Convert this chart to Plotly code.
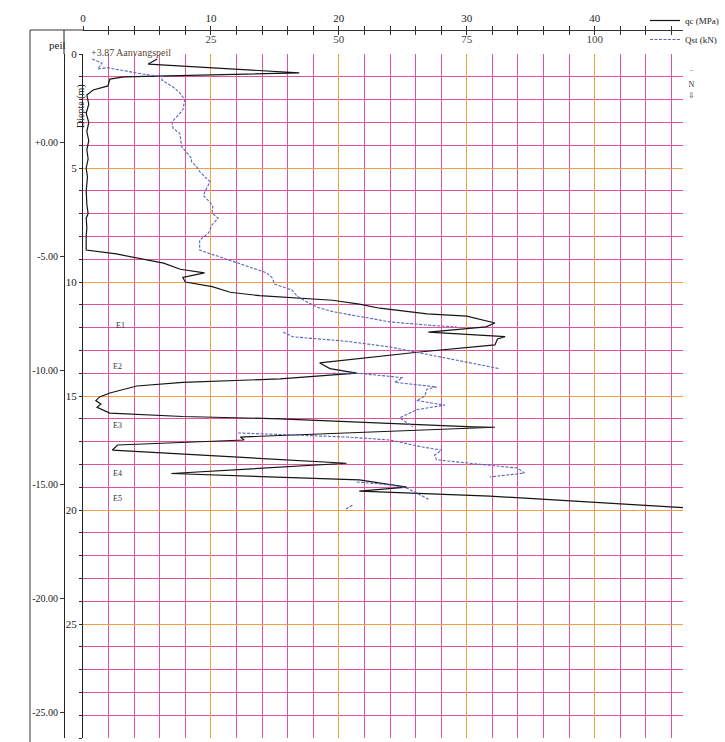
import plotly.graph_objects as go

# ---------------- data ----------------
# cone resistance qc (MPa) versus depth (m)
qc_depth = [0.22, 0.44, 0.83, 1.0, 1.1, 1.4, 1.58, 1.8, 2.2, 2.6, 3.0, 3.4, 3.8, 4.2, 4.6, 5.0,
            5.4, 6.0, 6.6, 7.0, 7.2, 7.6, 8.0, 8.6, 8.77, 9.17, 9.44, 9.6, 9.8, 10.0, 10.2, 10.45,
            10.6, 10.7, 10.8, 10.97, 11.15, 11.4, 11.5, 11.8, 11.97, 12.2, 12.4, 12.5, 12.76, 13.07,
            13.55, 13.8, 14.0, 14.25, 14.4, 14.56, 14.87, 15.04, 15.2, 15.35, 15.5, 15.75, 15.9,
            16.0, 16.15, 16.35, 16.37, 16.8, 16.93, 17.15, 17.37, 17.95, 18.4, 18.55, 18.68, 19.0,
            19.17, 19.39, 19.65, 19.9]
qc_mpa = [5.8, 5.1, 16.9, 3.2, 2.1, 1.95, 0.8, 0.3, 0.45, 0.25, 0.45, 0.3, 0.45, 0.3, 0.4, 0.25,
          0.35, 0.25, 0.3, 0.4, 0.25, 0.3, 0.25, 0.25, 2.6, 6.3, 7.6, 9.5, 7.8, 8.0, 10.1, 11.5,
          13.8, 17.0, 19.5, 21.6, 23.2, 26.9, 30.0, 32.2, 31.5, 27.0, 33.0, 32.4, 32.2, 26.3,
          18.5, 19.3, 21.4, 15.4, 7.8, 4.2, 2.1, 1.3, 1.0, 1.4, 1.1, 2.1, 7.8,
          15.4, 21.6, 30.5, 32.2, 12.3, 12.6, 2.7, 2.3, 20.6, 6.9, 15.4, 21.6, 25.3,
          21.6, 31.8, 39.8, 46.9]

# local friction Qst (kN) versus depth (m), measured in separate runs
qst_seg1_depth = [0.22, 0.4, 0.66, 0.6, 0.88, 1.0, 1.14, 1.27, 1.45, 1.7, 2.0, 2.46, 2.97, 3.26,
                  3.48, 4.07, 4.57, 4.72, 4.94, 5.16, 5.6, 6.2, 6.5, 6.7, 6.98, 7.2, 7.5, 7.86,
                  8.16, 8.6, 8.8, 9.17, 9.4, 9.6, 9.8, 10.1, 10.35, 10.65, 10.9, 11.1, 11.3, 11.5,
                  11.75, 11.9, 11.97]
qst_seg1_kn = [1.8, 3.7, 2.9, 4.7, 11.7, 15.6, 15.4, 16.4, 17.6, 18.9, 19.9, 19.5, 17.4, 17.6,
               18.9, 19.3, 21.2, 21.2, 22.2, 22.8, 24.8, 23.5, 24.8, 25.4, 25.2, 26.4, 25.2, 24.5,
               22.8, 22.8, 25.4, 30.1, 33.2, 35.9, 36.9, 37.5, 40.8, 42.0, 44.0, 45.7, 48.8, 54.1,
               60.0, 67.8, 73.0]
qst_seg2_depth = [12.2, 12.4, 12.6, 12.85, 13.2, 13.5, 13.8]
qst_seg2_kn = [39.1, 41.0, 51.5, 60.0, 67.8, 75.0, 81.4]
qst_seg3_depth = [14.0, 14.0, 14.15, 14.2, 14.4, 14.6, 14.7, 15.0, 15.2, 15.4, 15.6, 15.96, 16.35]
qst_seg3_kn = [48.8, 53.5, 60.5, 62.5, 60.9, 69.1, 67.2, 66.8, 65.2, 70.7, 65.2, 61.9, 64.5]
qst_seg4_depth = [16.62, 16.7, 16.8, 16.93, 17.24, 17.37, 17.6, 17.8, 17.94, 18.16, 18.38, 18.55]
qst_seg4_kn = [30.3, 38.5, 51.6, 60.0, 66.4, 70.1, 68.7, 69.1, 75.0, 84.8, 86.3, 79.5]
qst_seg5_depth = [18.77, 18.9, 19.04, 19.56]
qst_seg5_kn = [53.5, 60.0, 63.3, 67.8]
qst_seg6_depth = [19.96, 19.78]
qst_seg6_kn = [51.4, 52.7]

# groundwater marker (depth, m) drawn left of the depth axis
water_depth = [8.6]
water_x = [-0.45]

# layer labels
layer_names = ["E1", "E2", "E3", "E4", "E5"]
layer_depths = [11.9, 13.7, 16.3, 18.4, 19.5]
layer_x = [2.9, 2.7, 2.7, 2.7, 2.7]

# axis ticks
qc_ticks = [0, 10, 20, 30, 40]
qst_ticks = [0, 25, 50, 75, 100]
depth_ticks = [0, 5, 10, 15, 20, 25, 30]
start_level = 3.87
peil_ticks = [0, -5, -10, -15, -20, -25]
peil_labels = ["+0.00", "-5.00", "-10.00", "-15.00", "-20.00", "-25.00"]

# ---------------- layout geometry (screen pixels; page body margin removed) ----------------
W, H = 725, 742
S_LEFT, S_TOP, S_RIGHT, S_BOTTOM = 30, 30, 683, 738      # paper box on screen
ML, MT = S_LEFT, S_TOP
MR, MB = W - S_RIGHT, H - S_BOTTOM
PW = W - ML - MR
PH = H - MT - MB

def px_x(p):
    return (p - S_LEFT) / PW

def px_y(p):
    return (S_BOTTOM - p) / PH

xdom0 = px_x(83)
ydom1 = px_y(54)
QC_MAX = 46.9
QST_MAX = QC_MAX * 2.5

MAGENTA = "#e0529c"
ORANGE = "#ef9f45"
SERIF = "Liberation Serif"

fig = go.Figure()

fig.add_trace(go.Scatter(x=qc_mpa, y=qc_depth, mode="lines", name="qc (MPa)",
                         line=dict(color="#151515", width=1.2), xaxis="x", yaxis="y"))

segs = [(qst_seg1_kn, qst_seg1_depth), (qst_seg2_kn, qst_seg2_depth), (qst_seg3_kn, qst_seg3_depth),
        (qst_seg4_kn, qst_seg4_depth), (qst_seg5_kn, qst_seg5_depth), (qst_seg6_kn, qst_seg6_depth)]
for i, (kn, d) in enumerate(segs):
    fig.add_trace(go.Scatter(x=kn, y=d, mode="lines", name="Qst (kN)", legendgroup="qst",
                             showlegend=(i == 0),
                             line=dict(color="#5565c2", width=1.1, dash="3px,1.5px"),
                             xaxis="x2", yaxis="y"))

# groundwater marker, placed on the level (peil) axis
water_level = [start_level - d for d in water_depth]
fig.add_trace(go.Scatter(x=water_x, y=water_level, mode="markers", showlegend=False,
                         marker=dict(color="#9a9a9a", size=9), cliponaxis=False,
                         xaxis="x", yaxis="y2"))

fig.update_layout(
    width=W, height=H,
    margin=dict(l=ML, r=MR, t=MT, b=MB, autoexpand=False),
    paper_bgcolor="white", plot_bgcolor="white",
    font=dict(family=SERIF, size=11, color="#222"),
    xaxis=dict(domain=[xdom0, 1], range=[0, QC_MAX], anchor="free", position=1, side="top",
               tickvals=qc_ticks, ticks="outside", ticklen=4, tickcolor="#333",
               showline=True, linecolor="#333", linewidth=1,
               showgrid=True, gridcolor=ORANGE, gridwidth=1, zeroline=False,
               minor=dict(dtick=2, tick0=0, ticks="outside", ticklen=4, tickcolor="#333",
                          showgrid=True, gridcolor=MAGENTA, gridwidth=1),
               tickfont=dict(family=SERIF, size=11)),
    xaxis2=dict(overlaying="x", range=[0, QST_MAX], anchor="free", position=1, side="top",
                tickvals=qst_ticks, ticks="inside", ticklen=4, tickcolor="#333",
                ticklabelposition="inside", showline=False, showgrid=False, zeroline=False,
                minor=dict(dtick=5, tick0=0, ticks="inside", ticklen=4, tickcolor="#333"),
                tickfont=dict(family=SERIF, size=11)),
    yaxis=dict(domain=[0, ydom1], range=[30, 0], anchor="x", side="left",
               tickvals=depth_ticks, ticks="outside", ticklen=3, tickcolor="#333",
               showline=True, linecolor="#222", linewidth=1,
               showgrid=True, gridcolor=ORANGE, gridwidth=1, zeroline=False,
               minor=dict(dtick=1, tick0=0, ticks="outside", ticklen=3, tickcolor="#333",
                          showgrid=True, gridcolor=MAGENTA, gridwidth=1),
               tickfont=dict(family=SERIF, size=11)),
    yaxis2=dict(overlaying="y", anchor="free", position=px_x(64), side="left",
                range=[start_level - 30, start_level],
                tickvals=peil_ticks, ticktext=peil_labels, ticks="outside", ticklen=4,
                tickcolor="#333", showline=True, linecolor="#222", linewidth=1,
                showgrid=False, zeroline=False, tickfont=dict(family=SERIF, size=10)),
    legend=dict(x=px_x(724), y=px_y(6), xanchor="right", yanchor="top",
                bgcolor="rgba(0,0,0,0)", borderwidth=0, itemwidth=30,
                font=dict(family=SERIF, size=9, color="#222"), tracegroupgap=0),
    showlegend=True,
)

# frame of the level column
fig.add_shape(type="line", xref="paper", yref="paper", x0=0, x1=0, y0=-0.01, y1=1,
              line=dict(color="#333", width=1))
fig.add_shape(type="line", xref="paper", yref="paper", x0=0, x1=xdom0, y0=1, y1=1,
              line=dict(color="#333", width=1))
fig.add_shape(type="line", xref="paper", yref="paper", x0=px_x(64), x1=px_x(64), y0=ydom1, y1=1,
              line=dict(color="#222", width=1))

ann = [
    dict(text="peil", x=px_x(47), y=px_y(37), xref="paper", yref="paper", showarrow=False,
         font=dict(family=SERIF, size=11, color="#222")),
    dict(text="Diepte (m)", x=px_x(73), y=px_y(82), xref="paper", yref="paper", showarrow=False,
         textangle=-90, font=dict(family=SERIF, size=10, color="#222")),
    dict(text="+3.87 Aanvangspeil", x=px_x(89), y=px_y(45), xref="paper", yref="paper",
         xanchor="left", showarrow=False, font=dict(family=SERIF, size=10, color="#5a4632")),
    dict(text="‾<br>N<br>⇩", x=px_x(697), y=px_y(68), xref="paper", yref="paper",
         showarrow=False, font=dict(family=SERIF, size=8, color="#333")),
]
for name, d, xx in zip(layer_names, layer_depths, layer_x):
    ann.append(dict(text=name, x=xx, y=d, xref="x", yref="y", showarrow=False,
                    font=dict(family=SERIF, size=8, color="#333")))
fig.update_layout(annotations=ann)

fig.write_html("out.html", config={"displayModeBar": False},
               post_script="document.body.style.margin='0px';document.body.style.overflow='hidden';")
